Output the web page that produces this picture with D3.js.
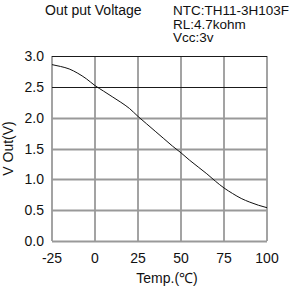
<!DOCTYPE html>
<html>
<head>
<meta charset="utf-8">
<script src="https://cdn.jsdelivr.net/npm/d3@7"></script>
<style>
  body { margin: 0; background: #fff; }
  text { font-family: "Liberation Sans", Arial, sans-serif; fill: #111; }
</style>
</head>
<body>
<svg id="chart" width="297" height="287"></svg>
<script>
const temps = [-25, -20, -15, -10, -5, 0, 5, 10, 15, 20, 25, 30, 35, 40, 45, 50, 55, 60, 65, 70, 75, 80, 85, 90, 95, 100];
const vout = [2.86, 2.83, 2.79, 2.72, 2.63, 2.52, 2.43, 2.34, 2.25, 2.15, 2.02, 1.90, 1.78, 1.66, 1.54, 1.43, 1.31, 1.20, 1.09, 0.97, 0.86, 0.77, 0.69, 0.63, 0.58, 0.54];
const xTicks = [-25, 0, 25, 50, 75, 100];
const yTicks = [0, 0.5, 1.0, 1.5, 2.0, 2.5, 3.0];
const darkLines = [2.5, 3.0]; // these two grid lines are drawn dark in the original

const svg = d3.select("#chart");
const margin = { left: 52, right: 30, top: 56, bottom: 46 };
const width = 297, height = 287;

const x = d3.scaleLinear().domain([-25, 100]).range([margin.left, width - margin.right]);
const y = d3.scaleLinear().domain([0, 3]).range([height - margin.bottom, margin.top]);

// grid
svg.append("g")
    .selectAll("line")
    .data(xTicks)
    .join("line")
    .attr("x1", d => x(d)).attr("x2", d => x(d))
    .attr("y1", y(0)).attr("y2", y(3))
    .attr("stroke", "#999").attr("stroke-width", 1.8);

svg.append("g")
    .selectAll("line")
    .data(yTicks)
    .join("line")
    .attr("x1", x(-25)).attr("x2", x(100))
    .attr("y1", d => Math.round(y(d)) + 0.5).attr("y2", d => Math.round(y(d)) + 0.5)
    .attr("stroke", d => darkLines.includes(d) ? "#1a1a1a" : "#999")
    .attr("stroke-width", d => darkLines.includes(d) ? 1.2 : 1.8);

// tick labels
svg.append("g")
    .selectAll("text")
    .data(yTicks)
    .join("text")
    .attr("x", 44).attr("y", d => y(d) + 5)
    .attr("text-anchor", "end")
    .attr("font-size", 14)
    .text(d => d.toFixed(1));

svg.append("g")
    .selectAll("text")
    .data(xTicks)
    .join("text")
    .attr("x", d => x(d)).attr("y", 263)
    .attr("text-anchor", "middle")
    .attr("font-size", 14)
    .text(d => d);

// curve
const line = d3.line()
    .x((d, i) => x(temps[i]))
    .y(d => y(d))
    .curve(d3.curveMonotoneX);

svg.append("path")
    .datum(vout)
    .attr("fill", "none")
    .attr("stroke", "#111")
    .attr("stroke-width", 1)
    .attr("d", line);

// labels
svg.append("text")
    .attr("x", 45).attr("y", 15)
    .attr("font-size", 14)
    .text("Out put Voltage");

svg.append("text")
    .attr("x", 173).attr("y", 15)
    .attr("font-size", 13.5)
    .selectAll("tspan")
    .data(["NTC:TH11-3H103F", "RL:4.7kohm", "Vcc:3v"])
    .join("tspan")
    .attr("x", 173)
    .attr("dy", (d, i) => i === 0 ? 0 : 13.5)
    .text(d => d);

svg.append("text")
    .attr("transform", `translate(13,${y(1.5)}) rotate(-90)`)
    .attr("text-anchor", "middle")
    .attr("font-size", 14)
    .text("V Out(V)");

svg.append("text")
    .attr("x", 167).attr("y", 283)
    .attr("text-anchor", "middle")
    .attr("font-size", 14)
    .text("Temp.(℃)");
</script>
</body>
</html>
